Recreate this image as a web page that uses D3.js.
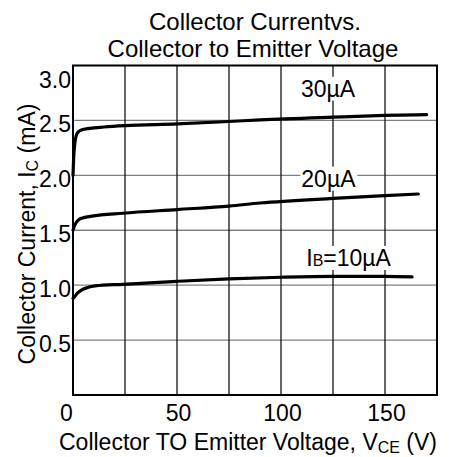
<!DOCTYPE html>
<html>
<head>
<meta charset="utf-8">
<script src="https://cdn.jsdelivr.net/npm/d3@7"></script>
<style>
  body { margin: 0; background: #fff; }
  svg { font-family: "Liberation Sans", Arial, sans-serif; }
</style>
</head>
<body>
<svg width="452" height="457"></svg>
<script>
// Chart values
const xTicks = [0, 50, 100, 150];
const yTicks = [0.5, 1.0, 1.5, 2.0, 2.5, 3.0];
const xGrid = [25, 50, 75, 100, 125, 150];
const yGrid = [0.5, 1.0, 1.5, 2.0, 2.5];

// [V_CE (V), I_C (mA)]
const ib30 = [[0, 2.0], [0.3, 2.15], [0.8, 2.28], [1.5, 2.36], [2.5, 2.395], [4, 2.413],
  [8, 2.428], [15, 2.44], [25, 2.452], [50, 2.468], [75, 2.49], [90, 2.505],
  [125, 2.53], [150, 2.545], [170, 2.553]];
const ib20 = [[0, 1.5], [0.5, 1.53], [1.2, 1.56], [2.5, 1.592], [4.2, 1.61], [9, 1.628],
  [24, 1.655], [50, 1.688], [75, 1.72], [90, 1.748], [125, 1.79], [150, 1.815], [166, 1.83]];
const ib10 = [[0, 0.88], [1, 0.9], [2, 0.925], [4, 0.955], [7, 0.978], [10.6, 0.993],
  [24, 1.008], [50, 1.035], [75, 1.057], [100, 1.072], [125, 1.08], [150, 1.08], [163, 1.075]];

const curves = [ib30, ib20, ib10];
const curveLabels = [
  { text: "30µA", v: 122.6, i: 2.716 },
  { text: "20µA", v: 122.8, i: 1.897 },
  { text: "10µA", sub: "B", v: 132.5, i: 1.175 }
];

const svg = d3.select("svg");

// Plot area
const plotLeft = 73, plotTop = 65.5, plotRight = 437, plotBottom = 395;

const x = d3.scaleLinear().domain([0, 175]).range([plotLeft, plotRight]);
const y = d3.scaleLinear().domain([0, 3]).range([plotBottom, plotTop]);

// Horizontal grid (gray)
svg.append("g").selectAll("line")
  .data(yGrid)
  .enter().append("line")
  .attr("x1", plotLeft).attr("x2", plotRight)
  .attr("y1", d => y(d)).attr("y2", d => y(d))
  .attr("stroke", "#808080")
  .attr("stroke-width", 1.3);

// Vertical grid (black)
svg.append("g").selectAll("line")
  .data(xGrid)
  .enter().append("line")
  .attr("y1", plotTop).attr("y2", plotBottom)
  .attr("x1", d => x(d)).attr("x2", d => x(d))
  .attr("stroke", "#000")
  .attr("stroke-width", 1.2);

// Frame
svg.append("rect")
  .attr("x", plotLeft).attr("y", plotTop)
  .attr("width", plotRight - plotLeft).attr("height", plotBottom - plotTop)
  .attr("fill", "none")
  .attr("stroke", "#000")
  .attr("stroke-width", 2);

// Curves
const line = d3.line()
  .x(d => x(d[0]))
  .y(d => y(d[1]))
  .curve(d3.curveMonotoneX);

svg.append("g").selectAll("path")
  .data(curves)
  .enter().append("path")
  .attr("d", line)
  .attr("fill", "none")
  .attr("stroke", "#000")
  .attr("stroke-width", 3.2)
  .attr("stroke-linecap", "round");

// Curve labels with white boxes
curveLabels.forEach(l => {
  const g = svg.append("g");
  const t = g.append("text")
    .attr("x", x(l.v))
    .attr("y", y(l.i))
    .attr("text-anchor", "middle")
    .style("font-size", "23px");
  if (l.sub) {
    t.append("tspan").text("I");
    t.append("tspan").text(l.sub).style("font-size", "16px");
    t.append("tspan").text("=" + l.text);
  } else {
    t.text(l.text);
  }
  const bb = t.node().getBBox();
  g.insert("rect", "text")
    .attr("x", bb.x - 1).attr("y", bb.y + 1)
    .attr("width", bb.width + 2).attr("height", bb.height - 2)
    .attr("fill", "#fff");
});

// X axis
const xAxis = d3.axisBottom(x).tickValues(xTicks).tickSize(0).tickPadding(10);
const gx = svg.append("g")
  .attr("transform", `translate(0, ${plotBottom})`)
  .call(xAxis);
gx.select(".domain").remove();
gx.selectAll("text")
  .style("font-size", "23px")
  .attr("fill", "#000")
  .attr("dx", d => d === 0 ? -7 : 1);

// Y axis
const yAxis = d3.axisLeft(y).tickValues(yTicks).tickSize(0).tickPadding(2).tickFormat(d3.format(".1f"));
const gy = svg.append("g")
  .attr("transform", `translate(${plotLeft}, 0)`)
  .call(yAxis);
gy.select(".domain").remove();
gy.selectAll("text")
  .style("font-size", "23px")
  .attr("fill", "#000")
  .attr("dy", d => d === 3 ? "0.95em" : "0.5em");

// Title
svg.append("text")
  .attr("x", 255).attr("y", 30)
  .attr("text-anchor", "middle")
  .style("font-size", "24px")
  .text("Collector Currentvs.");
svg.append("text")
  .attr("x", 253).attr("y", 57)
  .attr("text-anchor", "middle")
  .style("font-size", "24px")
  .text("Collector to Emitter Voltage");

// X axis title
const xt = svg.append("text")
  .attr("x", 248).attr("y", 450)
  .attr("text-anchor", "middle")
  .style("font-size", "23px");
xt.append("tspan").text("Collector TO Emitter Voltage, V");
xt.append("tspan").text("CE").attr("dy", 3).style("font-size", "16px");
xt.append("tspan").text(" (V)").attr("dy", -3);

// Y axis title
const yt = svg.append("text")
  .attr("transform", "translate(35, 234) rotate(-90)")
  .attr("text-anchor", "middle")
  .style("font-size", "23px");
yt.append("tspan").text("Collector Current, I");
yt.append("tspan").text("C").attr("dy", 3).style("font-size", "16px");
yt.append("tspan").text(" (mA)").attr("dy", -3);
</script>
</body>
</html>
